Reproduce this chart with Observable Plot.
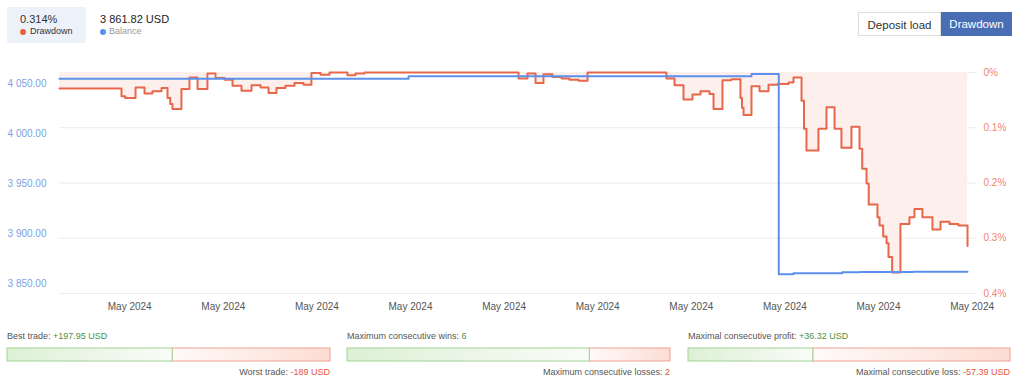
<!DOCTYPE html>
<html><head><meta charset="utf-8">
<script src="https://cdn.jsdelivr.net/npm/d3@7"></script>
<script src="https://cdn.jsdelivr.net/npm/@observablehq/plot@0.6"></script>
<style>
body{margin:0;background:#fff;font-family:"Liberation Sans",Arial,sans-serif;}
#wrap{position:relative;width:1024px;height:385px;overflow:hidden;background:#fff;}
.abs{position:absolute;white-space:nowrap;}
#chart svg{position:absolute;left:0;top:0;}
.dot{position:absolute;width:6px;height:6px;border-radius:50%;}
.btn{position:absolute;top:12px;height:24px;line-height:24px;font-size:11.5px;text-align:center;box-sizing:border-box;}
.stat{position:absolute;font-size:9px;line-height:11px;color:#555;white-space:nowrap;}
.pos{color:#4f8f3e}.neg{color:#e5553a}
.barsvg{position:absolute;}
</style></head><body>
<svg width="0" height="0" style="position:absolute">
 <defs>
  <linearGradient id="gpos" x1="0" x2="1" y1="0" y2="0"><stop offset="0" stop-color="#ddf0d5"/><stop offset="1" stop-color="#f9fcf8"/></linearGradient>
  <linearGradient id="gneg" x1="0" x2="1" y1="0" y2="0"><stop offset="0" stop-color="#fffaf9"/><stop offset="1" stop-color="#fcdcd3"/></linearGradient>
 </defs>
</svg>
<div id="wrap">
 <div id="chart"></div>
 <div class="abs" style="left:7px;top:7px;width:79px;height:36px;background:#edf2fa;border-radius:2px"></div>
 <div class="abs" style="left:20px;top:13px;font-size:11px;color:#333">0.314%</div>
 <div class="dot" style="left:20px;top:29px;background:#e8613d"></div>
 <div class="abs" style="left:30px;top:26px;font-size:9px;color:#333">Drawdown</div>
 <div class="abs" style="left:100px;top:13px;font-size:11px;color:#222">3 861.82 USD</div>
 <div class="dot" style="left:100px;top:29px;background:#5b91ec"></div>
 <div class="abs" style="left:109px;top:26px;font-size:9px;color:#999">Balance</div>
 <div class="btn" style="left:858px;width:83px;border:1px solid #ddd;color:#333;background:#fff">Deposit load</div>
 <div class="btn" style="left:941px;width:71px;background:#4a6eb4;color:#fff">Drawdown</div>
 <div id="stats"></div>
</div>
<script>
// Drawdown series (hours since 2024-05-01 00:00 UTC, drawdown in %)
const ddHours = [0,47.7,50.5,58.5,65.4,71.5,78.5,83.1,85.2,86.9,93.8,100,106.2,113.8,120,126.9,133.1,140,147.7,154.6,160.8,166.9,173.8,180.8,187.7,193.8,200.8,207.7,221.5,227.7,234.6,353.1,360,366.2,372.3,379.2,386.2,392.3,399.2,406.2,466.9,473.1,480,486.9,493.1,500,503.1,510,516.9,523.8,525,526.2,532.3,538.5,545.4,552.3,560.8,564.6,570.8,572.7,574.6,583.8,590,596.2,601.5,609.2,615.4,617.5,620.8,622.5,629.2,630.8,633.6,636.2,637.7,640.5,646.9,653.8,657.7,663.8,671.5,677.7,684.6,691.5,698.5];
const ddValues = [0.029,0.043,0.046,0.027,0.038,0.034,0.028,0.046,0.057,0.066,0.030,0.009,0.030,0.002,0.010,0.013,0.024,0.033,0.023,0.027,0.037,0.028,0.024,0.019,0.022,0.001,0.004,0,0.005,0.002,0,0.011,0.002,0.019,0.003,0.008,0.011,0.013,0.015,0,0.011,0.023,0.049,0.040,0.034,0.039,0.066,0.014,0.012,0.046,0.064,0.077,0.025,0.034,0.022,0.021,0.018,0.009,0.051,0.102,0.141,0.102,0.063,0.102,0.136,0.098,0.138,0.174,0.201,0.239,0.262,0.277,0.297,0.309,0.334,0.362,0.274,0.262,0.247,0.262,0.284,0.270,0.274,0.277,0.314];
// Balance series (USD)
const balHours = [0,268.5,532.3,553.3,564.6,602.1,615.4,656.9,698.5];
const balValues = [4054.7,4057.3,4059.4,3859.2,3860.3,3861.2,3861.6,3861.82,3861.82];
// Axis ticks
const xTickHours = [54,126,198,270,342,414,486,558,630,702];
const balTicks = [3850,3900,3950,4000,4050];
const ddTicks = [0,0.1,0.2,0.3,0.4];
// Stats
const statTopLabels = ["Best trade:","Maximum consecutive wins:","Maximal consecutive profit:"];
const statTopValues = ["+197.95 USD","6","+36.32 USD"];
const statBottomLabels = ["Worst trade:","Maximum consecutive losses:","Maximal consecutive loss:"];
const statBottomValues = ["-189 USD","2","-57.39 USD"];
const statPos = [197.95,6,36.32];
const statNeg = [189,2,57.39];

const t0 = Date.UTC(2024,4,1);
const T = h => new Date(t0 + h*3600e3);
const dd = ddHours.map((h,i)=>({date:T(h), v:ddValues[i]}));
const bal = balHours.map((h,i)=>({date:T(h), v:balValues[i]}));
const W=1024, H=320, mt=72, mb=27, ml=59, mr=48;
const xDomain=[T(0), T(705.4)];
const font = '"Liberation Sans", Arial, sans-serif';

const ddPlot = Plot.plot({
  width:W, height:H, marginTop:mt, marginBottom:mb, marginLeft:ml, marginRight:mr,
  style:{fontFamily:font, fontSize:"10px", background:"transparent", overflow:"visible"},
  x:{type:"utc", domain:xDomain},
  y:{domain:[0,0.4], reverse:true},
  marks:[
    Plot.ruleY(ddTicks,{stroke:"#ebebeb", strokeWidth:1}),
    Plot.areaY(dd,{x:"date", y:"v", curve:"step-after", fill:"#fdf0ec"}),
    Plot.lineY(dd,{x:"date", y:"v", curve:"step-after", stroke:"#e8664a", strokeWidth:2}),
    Plot.axisX({ticks:xTickHours.map(T), tickFormat:d3.utcFormat("%b %Y"), tickSize:0, tickPadding:9, label:null, fill:"#555"}),
    Plot.axisY({anchor:"right", ticks:ddTicks, tickFormat:d=>`${+d.toFixed(1)}%`, tickSize:0, tickPadding:7, label:null, fill:"#ef8769"})
  ]
});
const balPlot = Plot.plot({
  width:W, height:H, marginTop:mt, marginBottom:mb, marginLeft:ml, marginRight:mr,
  style:{fontFamily:font, fontSize:"10px", background:"transparent", overflow:"visible"},
  x:{type:"utc", domain:xDomain, axis:null},
  y:{domain:[3840,4061]},
  marks:[
    Plot.axisY({anchor:"left", ticks:balTicks, tickFormat:d=>d3.format(",.2f")(d).replace(/,/g," "), tickSize:0, tickPadding:13, label:null, fill:"#7aa2e4"}),
    Plot.lineY(bal,{x:"date", y:"v", curve:"step-after", stroke:"#5b91ec", strokeWidth:2})
  ]
});
const chart = document.getElementById("chart");
chart.appendChild(ddPlot);
chart.appendChild(balPlot);
d3.select(ddPlot).selectAll('g[aria-label="y-axis tick label"]').attr("fill","#ef8769");
d3.select(ddPlot).selectAll('g[aria-label="x-axis tick label"]').attr("fill","#555");
d3.select(balPlot).selectAll('g[aria-label="y-axis tick label"]').attr("fill","#7aa2e4");

// Stats panels
const statLeft = [7,347,688];
const statWidth = [323,323,322];
const stats = document.getElementById("stats");
statLeft.forEach((L,i)=>{
  const top = document.createElement("div");
  top.className="stat"; top.style.left=L+"px"; top.style.top="331px";
  top.innerHTML = `${statTopLabels[i]} <span class="pos">${statTopValues[i]}</span>`;
  stats.appendChild(top);
  const bot = document.createElement("div");
  bot.className="stat"; bot.style.left=L+"px"; bot.style.width=statWidth[i]+"px"; bot.style.textAlign="right"; bot.style.top="367px";
  bot.innerHTML = `${statBottomLabels[i]} <span class="neg">${statBottomValues[i]}</span>`;
  stats.appendChild(bot);
  const tot = statPos[i]+statNeg[i];
  const segs = [{x1:0,x2:statPos[i],k:"p"},{x1:statPos[i],x2:tot,k:"n"}];
  const bp = Plot.plot({
    width:statWidth[i]+2, height:15, marginTop:1, marginBottom:1, marginLeft:1, marginRight:1,
    style:{background:"transparent", overflow:"visible"},
    x:{domain:[0,tot], axis:null}, y:{axis:null},
    marks:[
      Plot.rectX(segs.filter(s=>s.k==="n"),{x1:"x1", x2:"x2", fill:"url(#gneg)", stroke:"#f0a190", strokeWidth:1}),
      Plot.rectX(segs.filter(s=>s.k==="p"),{x1:"x1", x2:"x2", fill:"url(#gpos)", stroke:"#a3d391", strokeWidth:1})
    ]
  });
  bp.classList.add("barsvg");
  bp.style.position="absolute"; bp.style.left=(L-1)+"px"; bp.style.top="347px";
  stats.appendChild(bp);
});
</script>
</body></html>
